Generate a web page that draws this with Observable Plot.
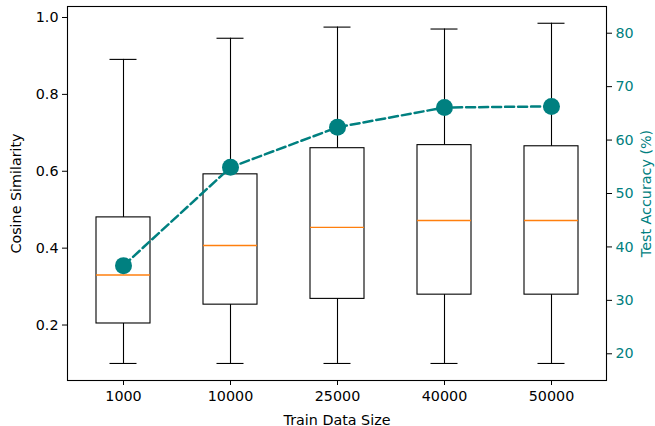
<!DOCTYPE html>
<html>
<head>
<meta charset="utf-8">
<script src="https://cdn.jsdelivr.net/npm/d3@7"></script>
<script src="https://cdn.jsdelivr.net/npm/@observablehq/plot@0.6"></script>
<style>
  body { margin: 0; background: white; }
  #wrap { position: relative; width: 655px; height: 426px; }
  #wrap svg { position: absolute; left: 0; top: 0; background: transparent; }
  .acc g[aria-label="y-axis tick"] { stroke: black; }
</style>
</head>
<body>
<div id="wrap"></div>
<script>
const labels = ["1000", "10000", "25000", "40000", "50000"];
const whiskerLow = [0.1, 0.1, 0.1, 0.1, 0.1];
const q1 = [0.204, 0.253, 0.268, 0.279, 0.279];
const median = [0.330, 0.407, 0.454, 0.472, 0.472];
const q3 = [0.480, 0.592, 0.660, 0.668, 0.665];
const whiskerHigh = [0.891, 0.946, 0.975, 0.970, 0.985];
const accuracy = [36.5, 54.9, 62.4, 66.1, 66.3];
const simTicks = [0.2, 0.4, 0.6, 0.8, 1.0];
const accTicks = [20, 30, 40, 50, 60, 70, 80];

const boxes = labels.map((l, i) => ({label: l, lo: whiskerLow[i], q1: q1[i], med: median[i], q3: q3[i], hi: whiskerHigh[i]}));
const acc = labels.map((l, i) => ({label: l, acc: accuracy[i]}));

const W = 655, H = 426;
const margins = {marginLeft: 67, marginRight: 49, marginTop: 6, marginBottom: 46};
const xScale = {type: "band", domain: labels, paddingInner: 0.5, paddingOuter: 0.25, align: 0.5};
const font = "DejaVu Sans, sans-serif";
const fs = "14.3px";
const teal = "#008080";

const left = Plot.plot({
  width: W, height: H, ...margins,
  style: {fontFamily: font, fontSize: fs, color: "black", background: "white"},
  x: xScale,
  y: {domain: [0.0557, 1.0286]},
  marks: [
    Plot.ruleX(boxes, {x: "label", y1: "q3", y2: "hi", stroke: "black", strokeWidth: 1.1}),
    Plot.ruleX(boxes, {x: "label", y1: "lo", y2: "q1", stroke: "black", strokeWidth: 1.1}),
    Plot.tickY(boxes, {x: "label", y: "hi", stroke: "black", strokeWidth: 1.1, insetLeft: 13.5, insetRight: 13.5}),
    Plot.tickY(boxes, {x: "label", y: "lo", stroke: "black", strokeWidth: 1.1, insetLeft: 13.5, insetRight: 13.5}),
    Plot.barY(boxes, {x: "label", y1: "q1", y2: "q3", fill: "none", stroke: "black", strokeWidth: 1.1}),
    Plot.tickY(boxes, {x: "label", y: "med", stroke: "#ff7f0e", strokeWidth: 1.4}),
    Plot.axisX({tickSize: 5, tickPadding: 5, label: "Train Data Size", labelAnchor: "center", labelArrow: "none", labelOffset: 44}),
    Plot.axisY({ticks: simTicks, tickFormat: ".1f", tickSize: 5, tickPadding: 4, label: "Cosine Similarity", labelAnchor: "center", labelArrow: "none", labelOffset: 57}),
    Plot.frame({stroke: "black", strokeWidth: 1.1})
  ]
});

const right = Plot.plot({
  width: W, height: H, ...margins,
  style: {fontFamily: font, fontSize: fs, background: "transparent"},
  x: {...xScale, axis: null},
  y: {domain: [15, 85]},
  marks: [
    Plot.line(acc, {x: "label", y: "acc", stroke: teal, strokeWidth: 2.5, strokeDasharray: "9,4"}),
    Plot.dot(acc, {x: "label", y: "acc", r: 8.5, fill: teal}),
    Plot.axisY({anchor: "right", ticks: accTicks, tickSize: 5, tickPadding: 4, color: teal, label: null}),
    Plot.text(["Test Accuracy (%)"], {frameAnchor: "right", rotate: -90, dx: 40, fill: teal, textAnchor: "middle", lineAnchor: "middle", fontSize: 14.3})
  ]
});
right.classList.add("acc");

const wrap = document.getElementById("wrap");
wrap.appendChild(left);
wrap.appendChild(right);
</script>
</body>
</html>
